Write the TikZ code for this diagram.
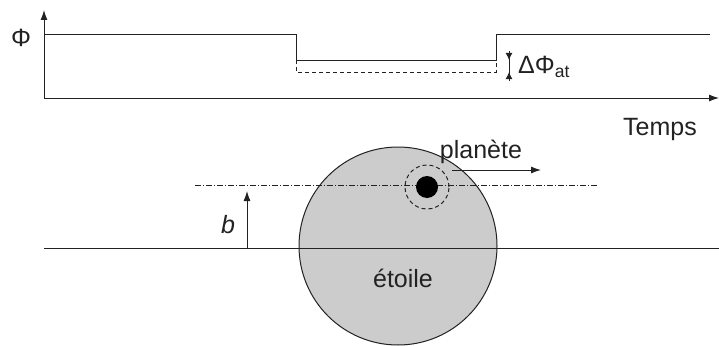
\documentclass[tikz,border=0pt]{standalone}
\usepackage{fontspec}
\setmainfont{Liberation Sans}
\usetikzlibrary{arrows.meta}
\definecolor{linec}{HTML}{222222}
\definecolor{starfill}{HTML}{CCCCCC}
\begin{document}
\begin{tikzpicture}[x=1pt,y=-1pt,
  ln/.style={draw=linec,line width=1pt},
  arr/.style={ln,-{Latex[length=10pt,width=7pt]}},
  lbl/.style={font=\fontsize{25}{27}\selectfont,inner sep=0pt,text=linec}]
\useasboundingbox (0,0) rectangle (719,345);
% axes
\coordinate (O) at (44,98);
\coordinate (ytop) at (44,10);
\coordinate (xend) at (719,98);
\draw[arr] (O) -- (ytop);
\draw[arr] (O) -- (xend);
\node[lbl] (phi) at (21,38) {Φ};
\node[lbl] (temps) at (660,129) {Temps};
% signal
\coordinate (s0) at (44,35);
\coordinate (s1) at (296,35);
\coordinate (s2) at (296,60);
\coordinate (s3) at (496,60);
\coordinate (s4) at (496,35);
\coordinate (s5) at (710,35);
\draw[ln] (s0) -- (s1) -- (s2) -- (s3) -- (s4) -- (s5);
\coordinate (d1) at (296,72);
\coordinate (d2) at (496,72);
\draw[ln,dashed,dash pattern=on 4pt off 3pt] (s2) -- (d1) -- (d2) -- (s3);
% delta marker
\coordinate (m1) at (509,51);
\coordinate (m2) at (509,60);
\coordinate (m3) at (509,72);
\coordinate (m4) at (509,81);
\draw[ln] (m1) -- (m4);
\draw[ln,-{Latex[length=7pt,width=7pt]}] (m1) -- (m2);
\draw[ln,-{Latex[length=7pt,width=7pt]}] (m4) -- (m3);
\node[lbl,anchor=west] (dphi) at (518,67) {ΔΦ\textsubscript{at}};
% bottom
\coordinate (h0) at (44,248);
\coordinate (h1) at (719,248);
\node[circle,draw=linec,line width=1pt,fill=starfill,minimum size=198pt,inner sep=0pt] (star) at (398,246) {};
\draw[ln] (h0) -- (h1);
\node[lbl] (etoile) at (403,278) {étoile};
\coordinate (c0) at (195,185);
\coordinate (c1) at (597,185);
\draw[draw=linec,line width=0.7pt,dash pattern=on 6pt off 2pt on 1pt off 2pt] (c0) -- (c1);
\node[circle,fill=black,minimum size=22pt,inner sep=0pt] (planet) at (427,187) {};
\node[circle,draw=linec,line width=1pt,dashed,dash pattern=on 4pt off 3pt,minimum size=44pt,inner sep=0pt] (halo) at (427,187) {};
\coordinate (a0) at (452,170);
\coordinate (a1) at (541,170);
\draw[arr] (a0) -- (a1);
\node[lbl] (plan) at (481,152) {planète};
\coordinate (b0) at (247,248);
\coordinate (b1) at (247,191);
\draw[arr] (b0) -- (b1);
\node[lbl] (blab) at (228,225) {\textit{b}};
\end{tikzpicture}
\end{document}
